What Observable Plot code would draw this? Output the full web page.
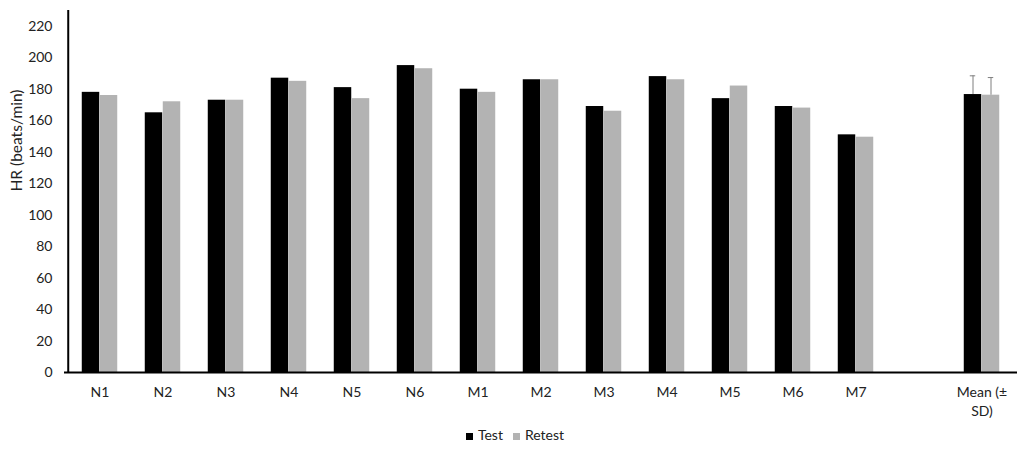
<!DOCTYPE html>
<html>
<head>
<meta charset="utf-8">
<script src="https://cdn.jsdelivr.net/npm/d3@7"></script>
<script src="https://cdn.jsdelivr.net/npm/@observablehq/plot@0.6"></script>
<style>
  body { margin: 0; background: #fff; font-family: Lato, "Open Sans", sans-serif; }
  #legend { display: flex; justify-content: center; align-items: center; gap: 10px; font-size: 14px; color: #222; margin-top: 6px; padding-left: 6px; }
  #legend span.sw { display: inline-block; width: 7px; height: 7px; margin-right: 5px; vertical-align: middle; }
</style>
</head>
<body>
<div id="chart"></div>
<div id="legend"></div>
<script>
const categories = ["N1","N2","N3","N4","N5","N6","M1","M2","M3","M4","M5","M6","M7","","Mean"];
const tickLabels = {"": "", "Mean": "Mean (±\nSD)"};
const testValues   = [178,165,173,187,181,195,180,186,169,188,174,169,151,null,176.6];
const retestValues = [176,172,173,185,174,193,178,186,166,186,182,168,149.5,null,176.2];
const testSD = 11.9;
const retestSD = 11.2;
const series = ["Test", "Retest"];
const colors = ["#000000", "#b3b3b3"];
const yTicks = [0,20,40,60,80,100,120,140,160,180,200,220];

const W = 1024, H = 420, ML = 64, MR = 7, MT = 10, MB = 48;
const bw = (W - ML - MR) / categories.length;
const barW = 18;

const testData = categories.map((c, i) => ({cat: c, v: testValues[i]})).filter(d => d.v != null);
const retestData = categories.map((c, i) => ({cat: c, v: retestValues[i]})).filter(d => d.v != null);
const errTest = [{cat: "Mean", m: testValues[14], sd: testSD}];
const errRetest = [{cat: "Mean", m: retestValues[14], sd: retestSD}];

const plot = Plot.plot({
  width: W, height: H,
  marginLeft: ML, marginRight: MR, marginTop: MT, marginBottom: MB,
  style: {fontFamily: "Lato, 'Open Sans', sans-serif", fontSize: "14px", color: "#222", background: "#fff"},
  x: {domain: categories, padding: 0, label: null},
  y: {domain: [0, 230], label: null},
  marks: [
    Plot.axisX({tickSize: 0, tickPadding: 11, tickFormat: d => tickLabels[d] ?? d, fontSize: 14, lineHeight: 1.35}),
    Plot.axisY({ticks: yTicks, tickSize: 0, tickPadding: 12, fontSize: 14}),
    Plot.text(["HR (beats/min)"], {frameAnchor: "left", dx: -47, rotate: -90, fontSize: 15.5, fill: "#222"}),
    Plot.barY(testData, {x: "cat", y: "v", fill: colors[0], insetLeft: bw/2 - barW, insetRight: bw/2}),
    Plot.barY(retestData, {x: "cat", y: "v", fill: colors[1], insetLeft: bw/2, insetRight: bw/2 - barW}),
    Plot.ruleX(errTest, {x: "cat", y1: "m", y2: d => d.m + d.sd, dx: -barW/2, stroke: "#7f7f7f", strokeWidth: 1}),
    Plot.ruleX(errRetest, {x: "cat", y1: "m", y2: d => d.m + d.sd, dx: barW/2, stroke: "#7f7f7f", strokeWidth: 1}),
    Plot.tickY(errTest, {x: "cat", y: d => d.m + d.sd, insetLeft: bw/2 - barW/2 - 3, insetRight: bw/2 + barW/2 - 3, stroke: "#7f7f7f", strokeWidth: 1}),
    Plot.tickY(errRetest, {x: "cat", y: d => d.m + d.sd, insetLeft: bw/2 + barW/2 - 3, insetRight: bw/2 - barW/2 - 3, stroke: "#7f7f7f", strokeWidth: 1}),
    Plot.ruleY([0], {stroke: "#000", strokeWidth: 2}),
    Plot.ruleX([categories[0]], {y1: 0, y2: 230, dx: -bw/2, stroke: "#000", strokeWidth: 2})
  ]
});
document.getElementById("chart").appendChild(plot);

const legend = document.getElementById("legend");
series.forEach((s, i) => {
  const item = document.createElement("div");
  item.innerHTML = `<span class="sw" style="background:${colors[i]}"></span>${s}`;
  legend.appendChild(item);
});
</script>
</body>
</html>
